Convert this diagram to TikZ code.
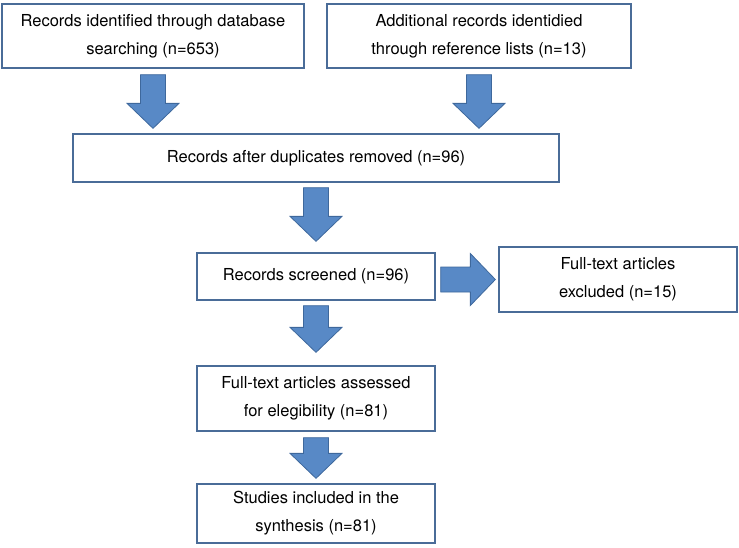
\documentclass[tikz,border=0pt]{standalone}
\usepackage{fontspec}
\setmainfont{TeX Gyre Heros}
\usetikzlibrary{calc}
\definecolor{boxline}{RGB}{74,108,152}
\definecolor{arrowfill}{RGB}{88,137,198}
\definecolor{arrowline}{RGB}{62,104,156}

\begin{document}
\begin{tikzpicture}[x=1pt,y=1pt,
  box/.style={draw=boxline,line width=1.3pt,align=center,inner sep=0pt,
    font=\fontsize{16.5}{28}\selectfont},
  blockarrow/.style={draw=arrowline,fill=arrowfill,line width=0.8pt,
    to path={let \p1=($(\tikztotarget)-(\tikztostart)$), \n1={atan2(\y1,\x1)},
      \n2={veclen(\x1,\y1)-25} in
      ($(\tikztostart)+({\n1+90}:12.5)$) -- ++(\n1:\n2) -- ++({\n1+90}:13.5)
      -- (\tikztotarget) -- ++($({\n1+180}:25)+({\n1-90}:26)$)
      -- ++({\n1+90}:13.5) -- ++({\n1+180}:\n2) -- cycle}}]

\useasboundingbox (0,0) rectangle (739,-547);

\node[box,minimum width=302pt,minimum height=64pt] (recdb) at (153,-36)
  {Records identified through database\\searching (n=653)};
\node[box,minimum width=304pt,minimum height=64pt] (recref) at (479,-36)
  {Additional records identidied\\through reference lists (n=13)};
\node[box,minimum width=486pt,minimum height=48pt] (dedup) at (316,-158)
  {Records after duplicates removed (n=96)};
\node[box,minimum width=238pt,minimum height=47pt] (screen) at (316,-276.5)
  {Records screened (n=96)};
\node[box,minimum width=238pt,minimum height=65pt] (excl) at (618,-279.5)
  {Full-text articles\\excluded (n=15)};
\node[box,minimum width=238pt,minimum height=65pt] (elig) at (316,-398.5)
  {Full-text articles assessed\\for elegibility (n=81)};
\node[box,minimum width=238pt,minimum height=59pt] (incl) at (316,-513.5)
  {Studies included in the\\synthesis (n=81)};

\draw[blockarrow] ([yshift=-6pt]recdb.south) to ([yshift=5pt]recdb.south |- dedup.north);
\draw[blockarrow] ([yshift=-6pt]recref.south) to ([yshift=5pt]recref.south |- dedup.north);
\draw[blockarrow] ([yshift=-5pt]dedup.south) to ([yshift=11pt]screen.north);
\draw[blockarrow] ([xshift=5pt]screen.east |- excl.west) to ([xshift=-3pt]excl.west);
\draw[blockarrow] ([yshift=-5pt]screen.south) to ([yshift=13pt]elig.north);
\draw[blockarrow] ([yshift=-6pt]elig.south) to ([yshift=5pt]incl.north);
\end{tikzpicture}
\end{document}
